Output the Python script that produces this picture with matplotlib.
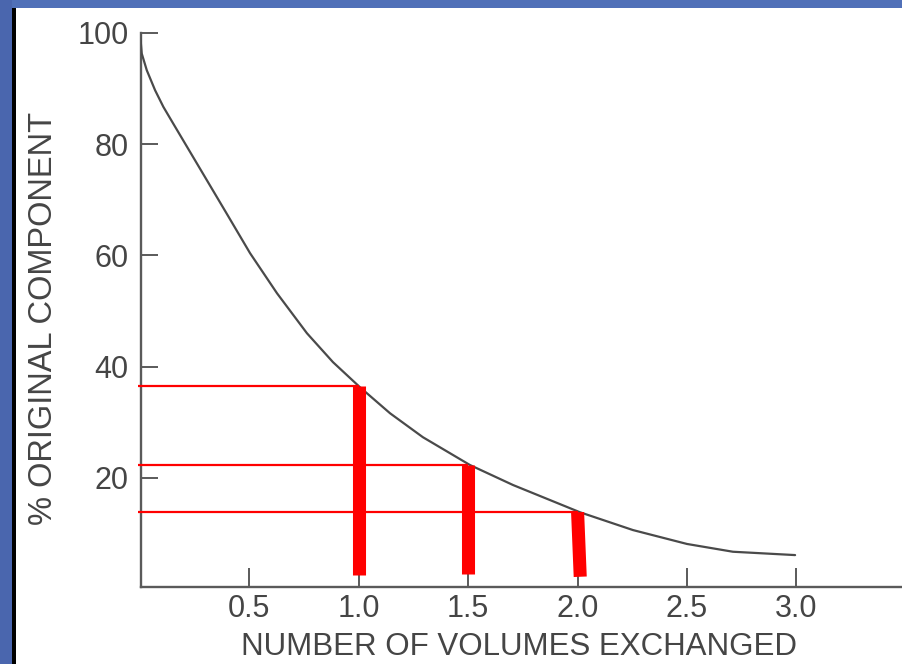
import matplotlib
matplotlib.use("Agg")
import matplotlib.pyplot as plt
from matplotlib.patches import Rectangle

# ---- data ----
curve_x = [0.0, 0.008, 0.031, 0.069, 0.107, 0.152, 0.229, 0.398, 0.503, 0.626,
           0.763, 0.882, 1.005, 1.143, 1.293, 1.508, 1.705, 2.011, 2.253, 2.500,
           2.710, 2.994]
curve_y = [100.0, 96.3, 93.3, 89.7, 86.7, 83.7, 78.6, 67.4, 60.4, 53.2,
           46.0, 40.8, 36.3, 31.6, 27.3, 22.3, 18.7, 13.8, 10.6, 8.1,
           6.7, 6.1]

mark_x = [1.0, 1.5, 2.0]
mark_y = [36.5, 22.3, 13.8]
bar_bottom = [2.5, 2.7, 2.2]
bar_x_bottom = [1.0, 1.5, 2.012]

x_ticks = [0.5, 1.0, 1.5, 2.0, 2.5, 3.0]
x_tick_labels = ["0.5", "1.0", "1.5", "2.0", "2.5", "3.0"]
y_ticks = [20, 40, 60, 80, 100]
y_tick_labels = ["20", "40", "60", "80", "100"]

x_label = "NUMBER OF VOLUMES EXCHANGED"
y_label = "% ORIGINAL COMPONENT"

# ---- figure ----
W, H = 902, 664
fig = plt.figure(figsize=(W / 100, H / 100), dpi=100)
fig.patch.set_facecolor("white")

blue = "#5070b8"
fig.add_artist(Rectangle((0, 1 - 8 / H), 1, 8 / H, transform=fig.transFigure,
                         facecolor=blue, edgecolor="none", zorder=0))
fig.add_artist(Rectangle((0, 0), 12 / W, 1, transform=fig.transFigure,
                         facecolor="#4a66ae", edgecolor="none", zorder=0))
fig.add_artist(Rectangle((12 / W, 0), 3.5 / W, 1 - 8 / H, transform=fig.transFigure,
                         facecolor="black", edgecolor="none", zorder=0))

left_px, right_px, top_px, bottom_px = 141, 902, 33, 587
ax = fig.add_axes([left_px / W, 1 - bottom_px / H,
                   (right_px - left_px) / W, (bottom_px - top_px) / H])
ax.set_facecolor("none")

# pixel scales: x=0 at 140 px, 218.8 px per unit; y=0 at 589 px, 5.5625 px per unit
ax.set_xlim((left_px - 140) / 218.8, (right_px - 140) / 218.8)
ax.set_ylim((589 - bottom_px) / 5.5625, 100)

gray = "#4a4a4a"
ax.plot(curve_x, curve_y, color=gray, lw=1.6, solid_capstyle="round",
        solid_joinstyle="round", zorder=3)

# red guide lines
for xm, ym in zip(mark_x, mark_y):
    ax.plot([-0.01, xm], [ym, ym], color="#ff0000", lw=1.6, zorder=4,
            solid_capstyle="butt", clip_on=False)
for xt, yt, xb, yb in zip(mark_x, mark_y, bar_x_bottom, bar_bottom):
    ax.plot([xt, xb], [yt, yb], color="#ff0000", lw=9.4, zorder=5,
            solid_capstyle="butt")

for side in ["top", "right"]:
    ax.spines[side].set_visible(False)
for side in ["left", "bottom"]:
    ax.spines[side].set_color("#5a5a5a")
    ax.spines[side].set_linewidth(1.7)

font = "Liberation Sans"
txt = "#454545"
ax.set_xticks(x_ticks)
ax.set_xticklabels(x_tick_labels, family=font, fontsize=22, color=txt)
ax.set_yticks(y_ticks)
ax.set_yticklabels(y_tick_labels, family=font, fontsize=22, color=txt)
ax.tick_params(axis="x", direction="in", length=14, width=1.4, color="#5a5a5a", pad=5)
ax.tick_params(axis="y", direction="in", length=12, width=1.4, color="#5a5a5a", pad=9)

fig.text(519 / W, 1 - 655 / H, x_label, family=font, fontsize=22.5, color=txt,
         ha="center", va="baseline")
fig.text(44 / W, 1 - 318 / H, y_label, family=font, fontsize=23.5, color=txt,
         ha="center", va="center", rotation=90)

fig.savefig("out.png", dpi=100, facecolor=fig.get_facecolor())
